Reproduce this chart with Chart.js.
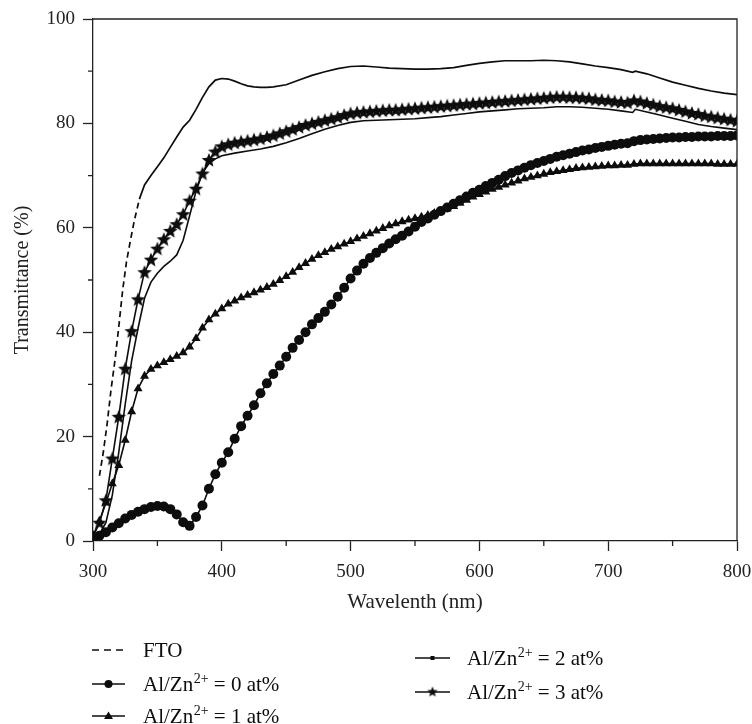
<!DOCTYPE html>
<html>
<head>
<meta charset="utf-8">
<script src="https://cdn.jsdelivr.net/npm/chart.js@4/dist/chart.umd.min.js"></script>
<style>
html,body{margin:0;padding:0;background:#fff;}
#wrap{width:752px;height:724px;position:relative;}
</style>
</head>
<body>
<div id="wrap"><canvas id="c"></canvas></div>
<script>
// ---------- data ----------
const wl5 = [300,305,310,315,320,325,330,335,340,345,350,355,360,365,370,375,380,385,390,395,400,405,410,415,420,425,430,435,440,445,450,455,460,465,470,475,480,485,490,495,500,505,510,515,520,525,530,535,540,545,550,555,560,565,570,575,580,585,590,595,600,605,610,615,620,625,630,635,640,645,650,655,660,665,670,675,680,685,690,695,700,705,710,715,720,725,730,735,740,745,750,755,760,765,770,775,780,785,790,795,800];

const at0 = [0.5,1.0,1.7,2.6,3.4,4.3,5.0,5.6,6.1,6.5,
  6.7,6.6,6.1,5.1,3.6,2.9,4.6,6.8,10.0,12.8,
  15.0,17.0,19.6,22.0,24.0,26.0,28.3,30.2,32.0,33.6,
  35.3,37.0,38.5,40.0,41.5,42.7,43.9,45.3,46.8,48.5,
  50.3,51.8,53.1,54.2,55.2,56.1,57.0,57.8,58.5,59.3,
  60.2,61.1,61.8,62.5,63.2,63.9,64.6,65.3,66.0,66.7,
  67.3,68.0,68.6,69.2,69.9,70.5,71.0,71.5,72.0,72.4,
  72.8,73.2,73.6,73.9,74.2,74.5,74.8,75.0,75.3,75.5,
  75.7,75.9,76.1,76.2,76.6,76.8,76.9,77.0,77.1,77.2,
  77.3,77.3,77.4,77.4,77.5,77.5,77.5,77.6,77.6,77.6,77.7];

const at1 = [1.0,3.8,7.3,11.0,14.5,19.3,24.8,29.2,31.6,32.9,
  33.6,34.2,34.8,35.4,36.1,37.2,38.8,40.8,42.4,43.5,
  44.5,45.4,46.0,46.6,47.1,47.6,48.1,48.6,49.2,49.9,
  50.7,51.5,52.4,53.2,54.0,54.7,55.3,55.9,56.4,56.9,
  57.4,57.9,58.4,58.9,59.4,59.9,60.4,60.8,61.2,61.5,
  61.8,62.1,62.4,62.8,63.2,63.6,64.1,64.7,65.3,65.9,
  66.4,66.9,67.4,67.8,68.2,68.6,69.0,69.4,69.7,70.0,
  70.3,70.6,70.8,71.0,71.2,71.4,71.5,71.6,71.7,71.8,
  71.9,71.9,72.0,72.0,72.2,72.3,72.3,72.3,72.3,72.3,
  72.3,72.3,72.3,72.3,72.3,72.3,72.3,72.2,72.2,72.2,72.2];

const at3 = [0.8,3.5,7.8,15.8,23.8,33.0,40.2,46.3,51.5,53.9,
  56.0,57.8,59.4,60.7,62.6,65.2,67.5,70.4,73.0,74.6,
  75.6,76.0,76.3,76.5,76.7,76.9,77.1,77.4,77.7,78.1,
  78.5,78.9,79.3,79.7,80.0,80.3,80.6,80.9,81.2,81.6,
  81.9,82.1,82.2,82.3,82.4,82.5,82.6,82.6,82.7,82.8,
  82.9,83.0,83.1,83.2,83.3,83.4,83.5,83.6,83.7,83.8,
  83.9,84.0,84.1,84.2,84.3,84.4,84.5,84.6,84.7,84.8,
  84.9,85.0,85.1,85.1,85.0,85.0,84.9,84.8,84.6,84.5,
  84.4,84.2,84.1,84.0,84.4,84.2,83.9,83.6,83.3,83.1,
  82.9,82.6,82.3,82.0,81.8,81.5,81.3,81.1,80.9,80.7,80.5];

const wl2 = [300,305,310,315,320,325,330,335,340,345,350,355,360,365,370,375,380,385,390,395,400,410,420,430,440,450,460,470,480,490,500,510,520,530,540,550,560,570,580,590,600,610,620,630,640,650,660,670,680,690,700,710,719,721,730,740,750,760,770,780,790,800];
const at2 = [0.3,1.3,3.5,8.8,17.0,26.2,34.5,40.8,46.5,49.6,51.3,52.6,53.6,54.8,57.6,62.3,67.0,70.5,72.3,73.2,73.8,
  74.3,74.7,75.1,75.6,76.3,77.1,78.0,78.9,79.6,80.2,
  80.5,80.6,80.7,80.8,80.9,81.1,81.3,81.6,81.9,82.2,
  82.4,82.6,82.8,82.9,83.0,83.2,83.2,83.1,82.9,82.7,82.4,
  82.1,82.7,
  82.2,81.6,81.0,80.4,79.8,79.4,79.1,78.8];

const wlF = [305,308,311,314,317,320,323,326,329,332,336,340,345,350,355,360,365,370,375,380,385,390,395,400,405,410,415,420,425,430,435,440,450,460,470,480,490,500,510,520,530,540,550,560,570,580,590,600,610,620,630,640,650,660,670,680,690,700,710,719,721,730,740,750,760,770,780,790,800];
const fto = [12.5,17.0,22.5,29.0,34.5,41.0,48.0,53.5,57.5,61.3,65.5,
  68.2,70.0,71.7,73.4,75.4,77.4,79.3,80.6,82.7,85.0,87.0,88.3,88.6,88.5,88.1,87.6,87.2,87.0,86.9,86.9,87.0,
  87.4,88.3,89.2,89.9,90.5,90.9,91.0,90.8,90.6,90.5,90.4,90.4,90.5,90.7,91.1,91.5,91.8,92.0,92.0,92.0,92.1,92.0,91.8,91.4,91.0,90.7,90.3,
  89.8,90.0,
  89.5,88.7,87.9,87.3,86.7,86.2,85.8,85.5];

const xTicks = [300,400,500,600,700,800];
const yTicks = [0,20,40,60,80,100];
const xMinor = [350,450,550,650,750];
const yMinor = [10,30,50,70,90];
const ftoDashUntil = 336;

const legendLabels = [
  {name:'FTO', sup:'', rest:''},
  {name:'Al/Zn', sup:'2+', rest:' = 0 at%'},
  {name:'Al/Zn', sup:'2+', rest:' = 1 at%'},
  {name:'Al/Zn', sup:'2+', rest:' = 2 at%'},
  {name:'Al/Zn', sup:'2+', rest:' = 3 at%'}
];

// ---------- helpers ----------
const pts = (xs, ys) => xs.map((x,i)=>({x:x, y:ys[i]}));
const INK = '#0d0d0d';
const SERIF = "'Liberation Serif','Times New Roman',serif";

function makeStar(size, outer, inner){
  const c = document.createElement('canvas');
  c.width = size; c.height = size;
  const g = c.getContext('2d');
  g.fillStyle = INK;
  g.beginPath();
  for (let i=0;i<10;i++){
    const r = (i%2) ? inner : outer;
    const a = -Math.PI/2 + i*Math.PI/5;
    g.lineTo(size/2 + r*Math.cos(a), size/2 + r*Math.sin(a) + 0.5);
  }
  g.closePath(); g.fill();
  return c;
}
const starImg = makeStar(16, 7.6, 3.3);
const starSmall = makeStar(12, 5.6, 2.4);

// ---------- plugin: frame, minor ticks, legend ----------
const extras = {
  id:'extras',
  afterDraw(chart){
    const {ctx, chartArea:a, scales} = chart;
    ctx.save();
    ctx.strokeStyle = '#222';
    ctx.lineWidth = 1.3;
    ctx.beginPath();
    ctx.moveTo(a.left, a.top); ctx.lineTo(a.right, a.top); ctx.lineTo(a.right, a.bottom);
    ctx.stroke();
    ctx.beginPath();
    xMinor.forEach(v=>{ const px = scales.x.getPixelForValue(v); ctx.moveTo(px, a.bottom); ctx.lineTo(px, a.bottom+5); });
    yMinor.forEach(v=>{ const py = scales.y.getPixelForValue(v); ctx.moveTo(a.left, py); ctx.lineTo(a.left-5, py); });
    ctx.stroke();

    const items = [
      {x0:92, x1:125, tx:143, y:650, kind:'dash'},
      {x0:92, x1:125, tx:143, y:684, kind:'circle'},
      {x0:92, x1:125, tx:143, y:716, kind:'tri'},
      {x0:415, x1:450, tx:467, y:658, kind:'square'},
      {x0:415, x1:450, tx:467, y:692, kind:'star'}
    ];
    items.forEach((it, i)=>{
      ctx.strokeStyle = INK; ctx.fillStyle = INK; ctx.lineWidth = 1.6;
      ctx.beginPath();
      if (it.kind==='dash') ctx.setLineDash([7,5]); else ctx.setLineDash([]);
      ctx.moveTo(it.x0, it.y); ctx.lineTo(it.x1, it.y); ctx.stroke();
      ctx.setLineDash([]);
      const cx = (it.x0+it.x1)/2;
      if (it.kind==='circle'){ ctx.beginPath(); ctx.arc(cx, it.y, 4, 0, Math.PI*2); ctx.fill(); }
      if (it.kind==='tri'){ ctx.beginPath(); ctx.moveTo(cx, it.y-4.5); ctx.lineTo(cx+4.5, it.y+3); ctx.lineTo(cx-4.5, it.y+3); ctx.closePath(); ctx.fill(); }
      if (it.kind==='square'){ ctx.fillRect(cx-2, it.y-2, 4, 4); }
      if (it.kind==='star'){ ctx.drawImage(starSmall, cx-6, it.y-6.5); }
      const L = legendLabels[i];
      ctx.textBaseline = 'alphabetic'; ctx.textAlign = 'left';
      const base = it.y + 7;
      ctx.font = '21px ' + SERIF;
      ctx.fillText(L.name, it.tx, base);
      let x = it.tx + ctx.measureText(L.name).width;
      if (L.sup){
        ctx.font = '14px ' + SERIF;
        ctx.fillText(L.sup, x + 0.5, base - 8);
        x += ctx.measureText(L.sup).width + 0.5;
        ctx.font = '21px ' + SERIF;
        ctx.fillText(L.rest, x, base);
      }
    });
    ctx.restore();
  }
};

// ---------- chart ----------
Chart.defaults.font.family = SERIF;
Chart.defaults.color = '#222';

const lineBase = {borderColor: INK, backgroundColor: INK, borderWidth: 1.6, tension: 0, fill: false};

new Chart(document.getElementById('c'), {
  type: 'line',
  data: {
    datasets: [
      Object.assign({}, lineBase, {
        label: 'FTO', data: pts(wlF, fto), pointRadius: 0, borderWidth: 1.7,
        segment: { borderDash: ctx => (ctx.p1.parsed.x <= ftoDashUntil ? [6,4] : undefined) }
      }),
      Object.assign({}, lineBase, {
        label: 'Al/Zn2+ = 2 at%', data: pts(wl2, at2), pointRadius: 0, borderWidth: 1.6
      }),
      Object.assign({}, lineBase, {
        label: 'Al/Zn2+ = 0 at%', data: pts(wl5, at0), pointStyle: 'circle', pointRadius: 5, pointBorderWidth: 0
      }),
      Object.assign({}, lineBase, {
        label: 'Al/Zn2+ = 1 at%', data: pts(wl5, at1), pointStyle: 'triangle', pointRadius: 5.2, pointBorderWidth: 0
      }),
      Object.assign({}, lineBase, {
        label: 'Al/Zn2+ = 3 at%', data: pts(wl5, at3), pointStyle: starImg, pointRadius: 7
      })
    ]
  },
  options: {
    responsive: true,
    maintainAspectRatio: false,
    animation: false,
    events: [],
    layout: { padding: { top: 19, right: 15, left: 0, bottom: 109 } },
    plugins: { legend: { display: false }, tooltip: { enabled: false } },
    scales: {
      x: {
        type: 'linear', min: 300, max: 800,
        afterFit: s => { s.height = 74; s.paddingLeft = 0; s.paddingRight = 0; },
        afterBuildTicks: s => { s.ticks = xTicks.map(v=>({value:v})); },
        ticks: { font: { size: 19 }, padding: 10, color: '#222', maxRotation: 0 },
        grid: { drawOnChartArea: false, drawTicks: true, tickLength: 10, tickColor: '#222', tickWidth: 1.3 },
        border: { display: true, color: '#222', width: 1.3 },
        title: { display: true, text: 'Wavelenth (nm)', font: { size: 21 }, color: '#222', padding: { top: 0, bottom: 0 } }
      },
      y: {
        min: 0, max: 100,
        afterFit: s => { s.width = 93; s.paddingTop = 0; s.paddingBottom = 0; },
        afterBuildTicks: s => { s.ticks = yTicks.map(v=>({value:v})); },
        ticks: { font: { size: 19 }, padding: 8, color: '#222' },
        grid: { drawOnChartArea: false, drawTicks: true, tickLength: 10, tickColor: '#222', tickWidth: 1.3 },
        border: { display: true, color: '#222', width: 1.3 },
        title: { display: true, text: 'Transmittance (%)', font: { size: 20 }, color: '#222', padding: { top: 11, bottom: 0 } }
      }
    }
  },
  plugins: [extras]
});
</script>
</body>
</html>
